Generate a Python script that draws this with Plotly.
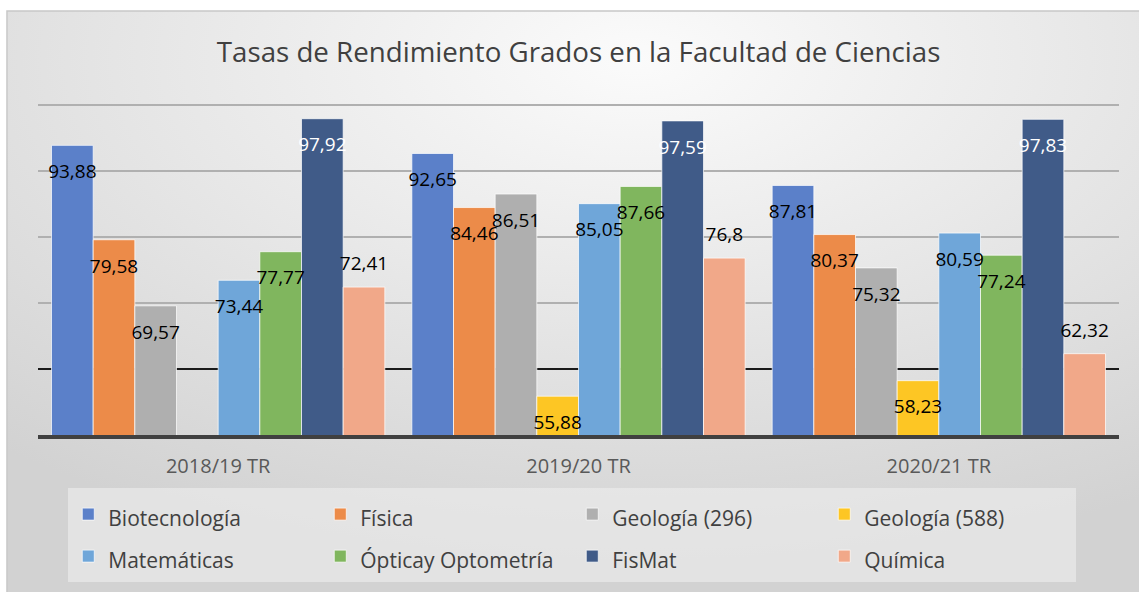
import base64
import plotly.graph_objects as go

# categories (academic years)
years = ["2018/19 TR", "2019/20 TR", "2020/21 TR"]

# one list per degree
biotecnologia = [93.88, 92.65, 87.81]
fisica = [79.58, 84.46, 80.37]
geologia_296 = [69.57, 86.51, 75.32]
geologia_588 = [None, 55.88, 58.23]
matematicas = [73.44, 85.05, 80.59]
optica = [77.77, 87.66, 77.24]
fismat = [97.92, 97.59, 97.83]
quimica = [72.41, 76.8, 62.32]

series = [
    ("Biotecnología", biotecnologia, "#5b80c9", "black", "bottom center"),
    ("Física", fisica, "#ec8b49", "black", "bottom center"),
    ("Geología (296)", geologia_296, "#afafaf", "black", "bottom center"),
    ("Geología (588)", geologia_588, "#fdc624", "black", "bottom center"),
    ("Matemáticas", matematicas, "#6fa6d9", "black", "bottom center"),
    ("Ópticay Optometría", optica, "#80b65e", "black", "bottom center"),
    ("FisMat", fismat, "#405b88", "white", "bottom center"),
    ("Química", quimica, "#f1a889", "black", "top center"),
]

FONT = "Open Sans"

# soft radial background like the office chart style
grad_svg = (
    "<svg xmlns='http://www.w3.org/2000/svg' width='100' height='100' "
    "preserveAspectRatio='none' viewBox='0 0 100 100'>"
    "<defs><radialGradient id='g' cx='0.55' cy='0.08' r='0.85'>"
    "<stop offset='0' stop-color='#fbfbfb'/>"
    "<stop offset='1' stop-color='#d2d2d2'/>"
    "</radialGradient></defs>"
    "<rect width='100' height='100' fill='url(#g)'/></svg>"
)
grad_uri = "data:image/svg+xml;base64," + base64.b64encode(grad_svg.encode()).decode()

fig = go.Figure()
for i, (name, vals, color, tcolor, tpos) in enumerate(series):
    fig.add_trace(go.Bar(
        x=years,
        y=vals,
        name=f"<span style='font-size:21px'>{name}</span>",
        marker=dict(color=color, line=dict(color="rgba(255,255,255,0.7)", width=1)),
        offsetgroup=str(i),
        hoverinfo="skip",
    ))

# value labels, grouped the same way as the bars
for i, (name, vals, color, tcolor, tpos) in enumerate(series):
    labels = ["" if v is None else f"{v:g}".replace(".", ",") for v in vals]
    fig.add_trace(go.Scatter(
        x=years,
        y=vals,
        mode="markers+text",
        text=labels,
        textposition=tpos,
        textfont=dict(family=FONT, size=19, color=tcolor),
        # invisible marker only sets the label distance from the bar top
        marker=dict(size=28 if tpos.startswith("bottom") else 18, opacity=0),
        offsetgroup=str(i),
        showlegend=False,
        hoverinfo="skip",
        cliponaxis=False,
    ))

fig.add_layout_image(
    source=grad_uri, xref="paper", yref="paper",
    x=-0.0287, y=1.277, sizex=1.06, sizey=1.82,
    xanchor="left", yanchor="top", sizing="stretch", layer="below",
)
# chart frame border
fig.add_shape(type="rect", xref="paper", yref="paper",
              x0=-0.0287, x1=1.03, y0=-0.7, y1=1.277,
              fillcolor="rgba(0,0,0,0)", line=dict(color="#c8c8c8", width=1.5),
              layer="below")
# darker gridline at 60
fig.add_shape(type="line", xref="paper", yref="y", x0=0, x1=1, y0=60, y1=60,
              line=dict(color="#1a1a1a", width=2), layer="between")

fig.update_layout(
    width=1139, height=592,
    paper_bgcolor="white",
    plot_bgcolor="rgba(0,0,0,0)",
    margin=dict(l=38, r=20, t=103, b=157, autoexpand=False),
    barmode="group",
    bargap=0.075,
    bargroupgap=0,
    scattermode="group",
    scattergap=0.075,
    title=dict(text="Tasas de Rendimiento Grados en la Facultad de Ciencias",
               x=0.508, xanchor="center", y=0.912, yanchor="middle",
               font=dict(family=FONT, size=27.7, color="#404040")),
    font=dict(family=FONT, color="#404040"),
    showlegend=True,
    legend=dict(orientation="h", x=0.028, xanchor="left", y=-0.16, yanchor="top",
                bgcolor="rgba(240,240,240,0.55)", entrywidth=207, entrywidthmode="pixels",
                font=dict(family=FONT, size=30, color="#404040"),
                itemclick=False, traceorder="normal"),
    xaxis=dict(showline=True, linecolor="#404040", linewidth=4,
               tickfont=dict(family=FONT, size=20, color="#595959"),
               ticks="", ticklabelstandoff=10, showgrid=False),
    yaxis=dict(range=[50, 100.3], tickvals=[70, 80, 90, 100], showticklabels=False,
               showgrid=True, gridcolor="#b0b0b0", gridwidth=2,
               zeroline=False, ticks=""),
)

fig.write_html("out.html", config={"displayModeBar": False},
               post_script="document.body.style.margin='0px';")
